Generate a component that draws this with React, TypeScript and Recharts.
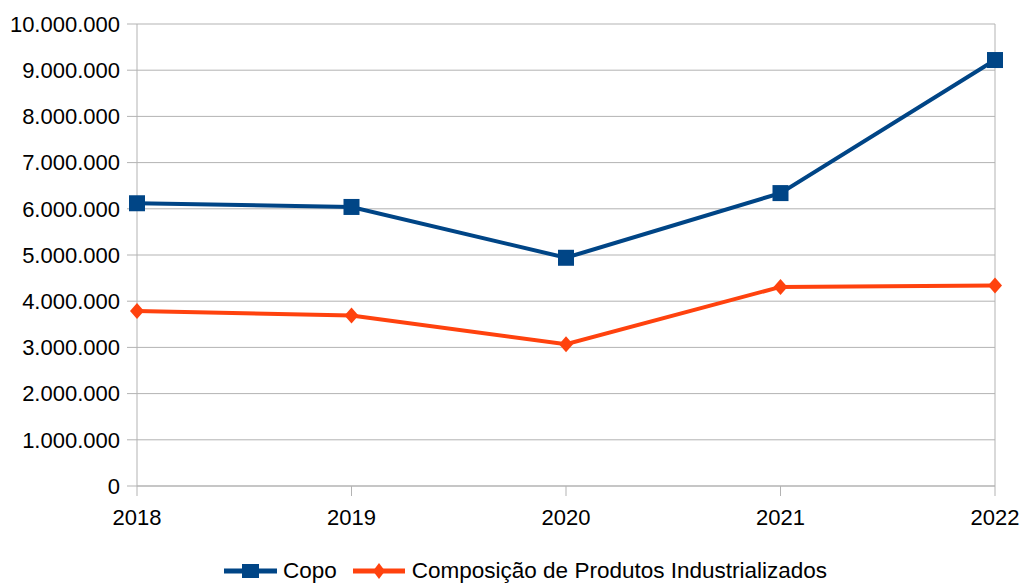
import React from "react";
import { LineChart, Line, XAxis, YAxis, CartesianGrid, Legend, ReferenceLine } from "recharts";

const years = ["2018", "2019", "2020", "2021", "2022"];
const copo = [6120000, 6040000, 4940000, 6340000, 9220000];
const composicao = [3790000, 3690000, 3070000, 4310000, 4340000];
const yTicks = [0, 1000000, 2000000, 3000000, 4000000, 5000000, 6000000, 7000000, 8000000, 9000000, 10000000];

const BLUE = "#004586";
const ORANGE = "#ff420e";
const GRID = "#b3b3b3";
const FONT = "'Liberation Sans', Arial, sans-serif";

const data = years.map((y, i) => ({ year: y, copo: copo[i], comp: composicao[i] }));

const fmt = (v: number) => String(v).replace(/\B(?=(\d{3})+(?!\d))/g, ".");

const SquareDot = (props: any) => {
  const { cx, cy } = props;
  if (cx == null || cy == null) return null;
  return <rect x={cx - 8} y={cy - 8} width={16} height={16} fill={BLUE} />;
};

const DiamondDot = (props: any) => {
  const { cx, cy } = props;
  if (cx == null || cy == null) return null;
  return <polygon points={`${cx},${cy - 8} ${cx + 7},${cy} ${cx},${cy + 8} ${cx - 7},${cy}`} fill={ORANGE} />;
};

const LegendContent = () => (
  <div style={{ display: "flex", justifyContent: "flex-start", alignItems: "center", height: 24, paddingLeft: 224, fontFamily: FONT, fontSize: 22.5, color: "#000" }}>
    <svg width={53} height={20} style={{ marginRight: 6 }}>
      <line x1={0} y1={10} x2={53} y2={10} stroke={BLUE} strokeWidth={5} />
      <rect x={18} y={3} width={17} height={14} fill={BLUE} />
    </svg>
    <span style={{ marginRight: 16 }}>Copo</span>
    <svg width={52} height={20} style={{ marginRight: 7 }}>
      <line x1={0} y1={10} x2={52} y2={10} stroke={ORANGE} strokeWidth={5} />
      <polygon points="26,2 32,10 26,18 20,10" fill={ORANGE} />
    </svg>
    <span>Composição de Produtos Industrializados</span>
  </div>
);

export default function App() {
  return (
    <div style={{ position: "absolute", left: 0, top: 0, width: 1022, height: 583, background: "#fff" }}>
      <LineChart width={1022} height={583} data={data} margin={{ top: 24, right: 27, left: 0, bottom: 0 }}>
        <CartesianGrid vertical={false} stroke={GRID} strokeWidth={1} />
        <ReferenceLine x="2022" stroke={GRID} strokeWidth={1} />
        <XAxis
          dataKey="year"
          height={73}
          stroke={GRID}
          tickSize={10}
          tickMargin={13}
          tick={{ fill: "#000", fontSize: 22, fontFamily: FONT }}
          interval={0}
        />
        <YAxis
          width={137}
          domain={[0, 10000000]}
          ticks={yTicks}
          tickFormatter={fmt}
          stroke={GRID}
          tickSize={10}
          tickMargin={7}
          tick={{ fill: "#000", fontSize: 22, fontFamily: FONT }}
          interval={0}
        />
        <Legend verticalAlign="bottom" wrapperStyle={{ left: 0, width: 1022 }} content={<LegendContent />} />
        <Line dataKey="copo" stroke={BLUE} strokeWidth={4} dot={<SquareDot />} activeDot={false} isAnimationActive={false} />
        <Line dataKey="comp" stroke={ORANGE} strokeWidth={4} dot={<DiamondDot />} activeDot={false} isAnimationActive={false} />
      </LineChart>
    </div>
  );
}
